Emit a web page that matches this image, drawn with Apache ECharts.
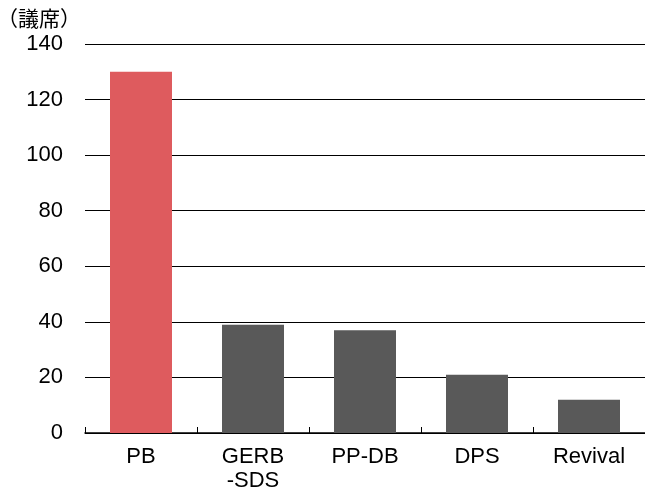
<!DOCTYPE html>
<html>
<head>
<meta charset="utf-8">
<script src="https://cdn.jsdelivr.net/npm/echarts@6/dist/echarts.min.js"></script>
<style>
  html, body { margin: 0; padding: 0; background: #fff; }
  #chart { width: 645px; height: 497px; }
</style>
</head>
<body>
<div id="chart"></div>
<script>
// 政党名
var categories = ['PB', 'GERB\n-SDS', 'PP-DB', 'DPS', 'Revival'];
// 議席数
var seats = [130, 39, 37, 21, 12];
var barColors = ['#DE5B5E', '#595959', '#595959', '#595959', '#595959'];

var myChart = echarts.init(document.getElementById('chart'));
var option = {
    animation: false,
    textStyle: { fontFamily: 'Liberation Sans, Arial, sans-serif' },
    graphic: [{
        type: 'text',
        left: -3,
        top: 8,
        style: {
            text: '（議席）',
            font: '21px "Noto Sans CJK JP"',
            fill: '#000'
        }
    }],
    grid: { left: 85, right: -6, top: 44, bottom: 64, containLabel: false },
    xAxis: {
        type: 'category',
        data: categories,
        axisLine: { lineStyle: { color: '#000', width: 1.5 } },
        axisTick: { show: true, inside: true, length: 6, lineStyle: { color: '#000' } },
        axisLabel: { color: '#000', fontSize: 22, margin: 12, lineHeight: 24 }
    },
    yAxis: {
        type: 'value',
        min: 0,
        max: 140,
        interval: 20,
        axisLine: { show: false },
        axisTick: { show: false },
        axisLabel: { color: '#000', fontSize: 22, margin: 22 },
        splitLine: { lineStyle: { color: '#000', width: 1 } }
    },
    series: [{
        type: 'bar',
        barWidth: 62,
        data: seats.map(function(v, i) {
            return { value: v, itemStyle: { color: barColors[i] } };
        })
    }]
};
myChart.setOption(option);
</script>
</body>
</html>
